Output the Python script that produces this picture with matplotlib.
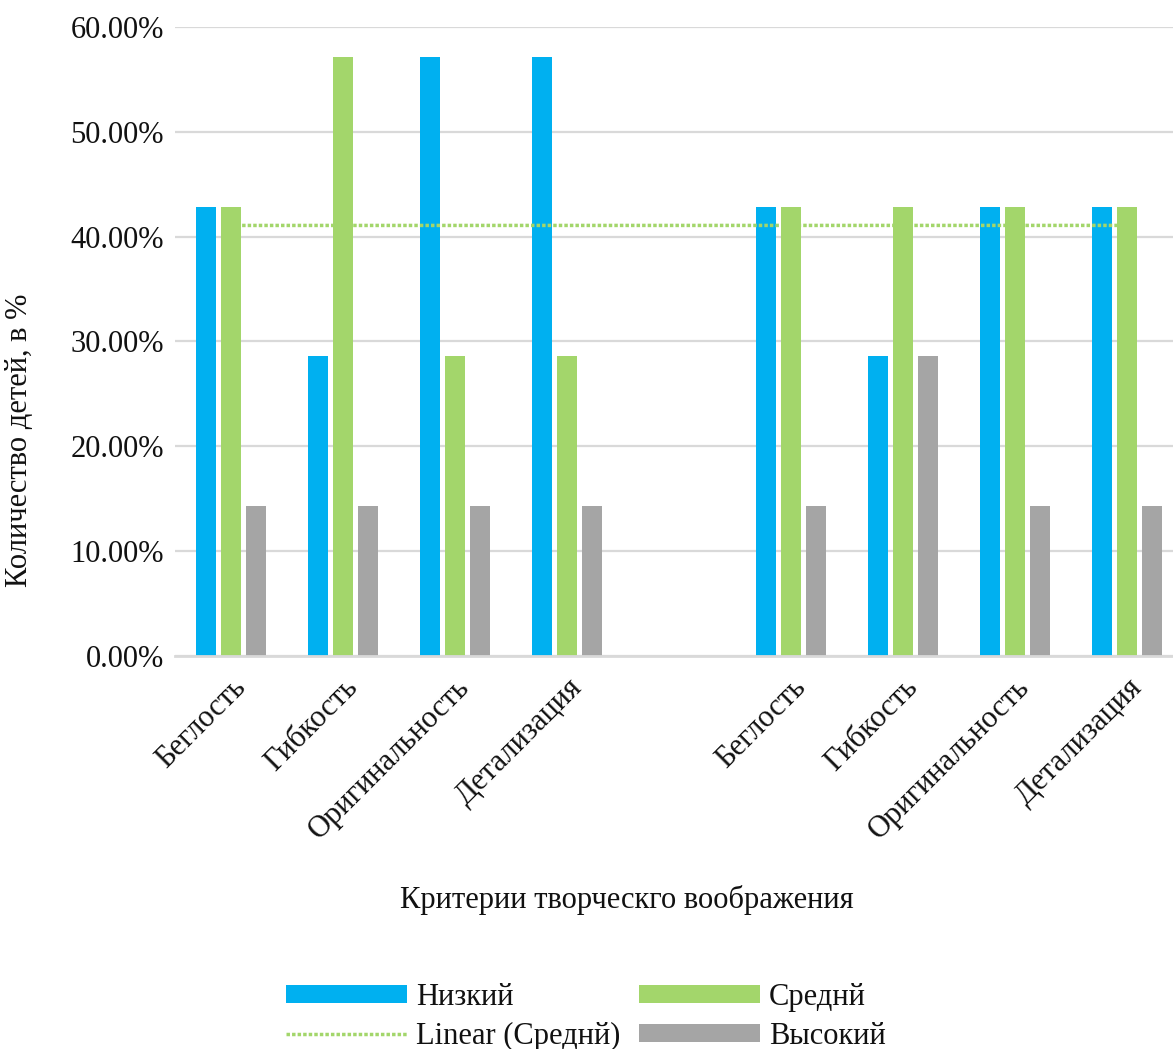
import numpy as np
import matplotlib.pyplot as plt
from matplotlib.ticker import FuncFormatter

# data (values as fractions, None = empty slot between the two groups)
categories = ["Беглость", "Гибкость", "Оригинальность", "Детализация", "",
              "Беглость", "Гибкость", "Оригинальность", "Детализация"]
low = [0.4286, 0.2857, 0.5714, 0.5714, None, 0.4286, 0.2857, 0.4286, 0.4286]
mid = [0.4286, 0.5714, 0.2857, 0.2857, None, 0.4286, 0.4286, 0.4286, 0.4286]
high = [0.1429, 0.1429, 0.1429, 0.1429, None, 0.1429, 0.2857, 0.1429, 0.1429]
series_names = ["Низкий", "Среднй", "Высокий"]
yticks = [0.0, 0.1, 0.2, 0.3, 0.4, 0.5, 0.6]

colors = ["#00b0f0", "#a3d66b", "#a5a5a5"]
plt.rcParams['font.family'] = ['Liberation Serif', 'DejaVu Serif']
FS = 22
TXT = '#111111'

fig = plt.figure(figsize=(11.73, 10.49), dpi=100)
# plot area runs a little past the right edge, as in the original
ax = fig.add_axes([175 / 1173, 1 - 656 / 1049, 1008 / 1173, 629 / 1049])

x = np.arange(len(categories))
width = 0.18
step = 0.223
handles = {}
for i, (vals, name) in enumerate(zip([low, mid, high], series_names)):
    xs = [xi for xi, v in zip(x, vals) if v is not None]
    vs = [v for v in vals if v is not None]
    handles[name] = ax.bar(np.array(xs) + (i - 1) * step, vs, width=width,
                           color=colors[i], label=name, zorder=2)

# linear trendline for the middle series
xm = np.array([xi for xi, v in zip(x, mid) if v is not None], dtype=float)
ym = np.array([v for v in mid if v is not None])
k, b = np.polyfit(xm, ym, 1)
xt = np.array([x[0], x[-1]], dtype=float)
trend, = ax.plot(xt, k * xt + b, color=colors[1], linestyle=(0, (1, 0.6)),
                 linewidth=2.5, zorder=3, label="Linear (Среднй)")

ax.set_xlim(-0.5, len(categories) - 0.5)
ax.set_ylim(0, 0.6)
ax.set_yticks(yticks)
ax.yaxis.set_major_formatter(FuncFormatter(lambda v, p: f"{v * 100:.2f}%"))
ax.set_xticks(x)
ax.set_xticklabels(categories, rotation=45, ha='right', rotation_mode='anchor')
ax.tick_params(axis='both', length=0, labelsize=FS, colors=TXT)
ax.tick_params(axis='y', pad=8)
ax.tick_params(axis='x', pad=12)
ax.grid(axis='y', color='#d9d9d9', linewidth=1.6, zorder=0)
for s in ['top', 'right', 'left']:
    ax.spines[s].set_visible(False)
ax.spines['bottom'].set_color('#d9d9d9')
ax.spines['bottom'].set_linewidth(2)

fig.text(20 / 1173, 1 - 440 / 1049, "Количество детей, в %", rotation=90,
         ha='center', va='center', fontsize=FS, color=TXT)
fig.text(627 / 1173, 1 - 900 / 1049, "Критерии творческго воображения",
         ha='center', va='center', fontsize=FS, color=TXT)

order = [handles["Низкий"], trend, handles["Среднй"], handles["Высокий"]]
labels = ["Низкий", "Linear (Среднй)", "Среднй", "Высокий"]
leg = fig.legend(order, labels, loc='center', ncol=2, frameon=False,
                 bbox_to_anchor=(586 / 1173, 1 - 1017 / 1049), fontsize=FS,
                 handlelength=3.95, handleheight=0.55, handletextpad=0.3,
                 columnspacing=0.6, labelspacing=0.32)
for t in leg.get_texts():
    t.set_color(TXT)

fig.savefig("out.png", dpi=100)
